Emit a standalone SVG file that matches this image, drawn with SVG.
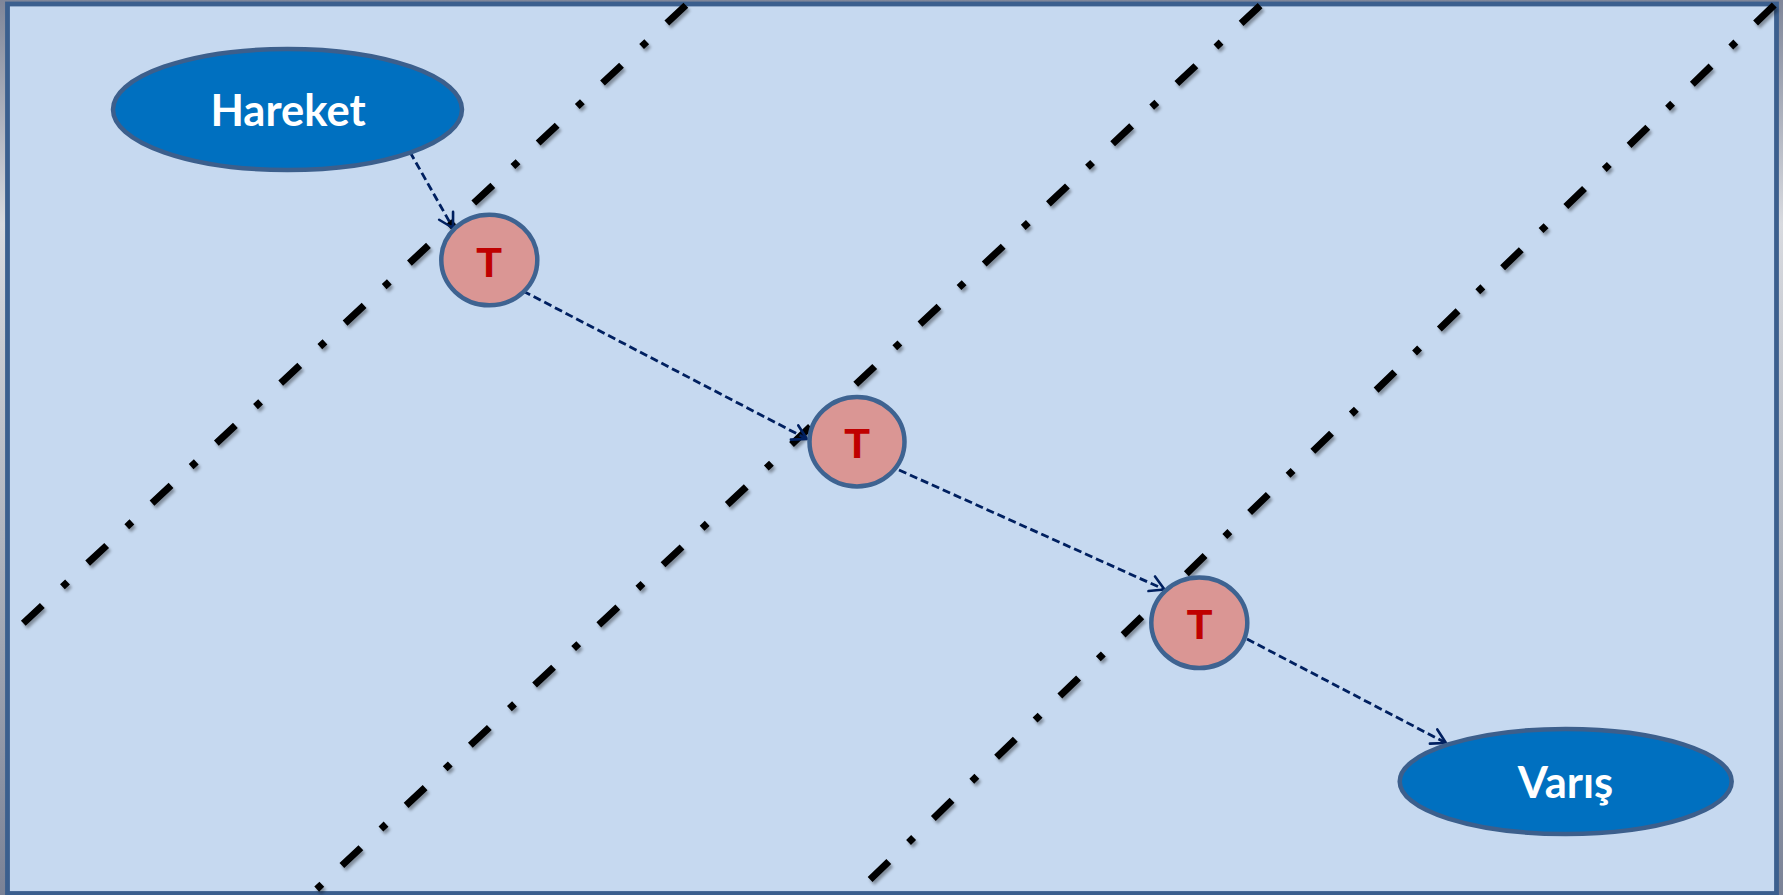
<svg xmlns="http://www.w3.org/2000/svg" width="1783" height="895" viewBox="0 0 1783 895">
  <defs>
    <linearGradient id="edge" x1="0" y1="0" x2="0" y2="1">
      <stop offset="0" stop-color="#7f8699"/>
      <stop offset="0.25" stop-color="#d8dadf"/>
      <stop offset="0.6" stop-color="#b0b5bf"/>
      <stop offset="1" stop-color="#7a8296"/>
    </linearGradient>
    <filter id="shadow" x="-20%" y="-20%" width="140%" height="140%">
      <feDropShadow dx="2" dy="3" stdDeviation="1.8" flood-color="#000" flood-opacity="0.35"/>
    </filter>
    <marker id="arrow" markerUnits="userSpaceOnUse" viewBox="0 0 18 20" markerWidth="18" markerHeight="20" refX="16" refY="10" orient="auto">
      <path d="M2,2 L16,10 L2,18" fill="none" stroke="#002060" stroke-width="2.6" stroke-linecap="round" stroke-linejoin="round"/>
    </marker>
    <style>
      .divider { fill: none; stroke: #000; stroke-width: 7; stroke-linecap: butt; }
      .conn { fill: none; stroke: #002060; stroke-width: 2.8; stroke-dasharray: 8 4; marker-end: url(#arrow); }
      .term { fill: #0070c0; stroke: #3c5f8c; stroke-width: 4.5; }
      .term-label { fill: #ffffff; font-family: Lato, "Liberation Sans", sans-serif; font-weight: bold; font-size: 43.5px; text-anchor: middle; }
      .stop { fill: #da9694; stroke: #3e6391; stroke-width: 4.5; }
      .stop-label { fill: #c00000; font-family: "Liberation Sans", Arial, sans-serif; font-weight: bold; font-size: 42px; text-anchor: middle; }
    </style>
  </defs>

  <rect x="0" y="0" width="1783" height="895" fill="url(#edge)"/>
  <rect id="frame" x="7.5" y="4" width="1769" height="889.5" fill="#c6d9f0" stroke="#3b5f8e" stroke-width="4.8"/>

  <g id="dividers" filter="url(#shadow)">
    <path class="divider" d="M23.3,623.2 L687.2,4" stroke-dasharray="26 27.5 7 27.5"/>
    <path class="divider" d="M316.7,889.1 L1261.8,4" stroke-dasharray="7 27.5 26 27.5"/>
    <path class="divider" d="M870.1,879.6 L1777,2.3" stroke-dasharray="26 27.5 7 27.5"/>
  </g>

  <g id="connectors">
    <path class="conn" d="M410,152 L453,228"/>
    <path class="conn" d="M523,291 L807,439"/>
    <path class="conn" d="M899,470 L1164.5,589.5"/>
    <path class="conn" d="M1247,639 L1446,743"/>
  </g>

  <g id="node-hareket">
    <ellipse class="term" cx="287.5" cy="109.5" rx="174.5" ry="60.5"/>
    <text class="term-label" x="288" y="125.5">Hareket</text>
  </g>

  <g id="node-t1">
    <ellipse class="stop" cx="489.3" cy="260" rx="48" ry="45.3"/>
    <text class="stop-label" x="489" y="276.5">T</text>
  </g>

  <g id="node-t2">
    <ellipse class="stop" cx="857" cy="441.7" rx="47.5" ry="44.7"/>
    <text class="stop-label" x="857" y="458">T</text>
  </g>

  <g id="node-t3">
    <ellipse class="stop" cx="1199.3" cy="622.8" rx="48" ry="45.2"/>
    <text class="stop-label" x="1199.5" y="639.2">T</text>
  </g>

  <g id="node-varis">
    <ellipse class="term" cx="1565.7" cy="781.5" rx="166" ry="52.5"/>
    <text class="term-label" x="1565.5" y="797.5">Varış</text>
  </g>
</svg>
